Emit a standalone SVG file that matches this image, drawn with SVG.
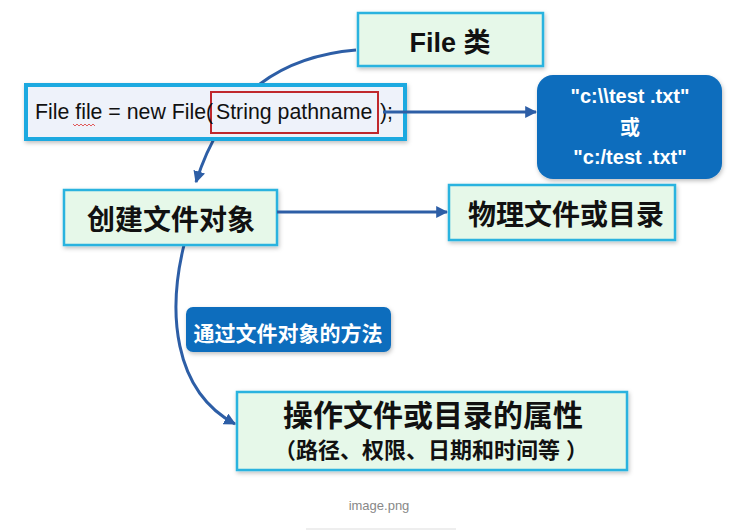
<svg xmlns="http://www.w3.org/2000/svg" width="752" height="530" viewBox="0 0 752 530">
<defs>
<style>
.box{fill:#e6f8e9;stroke:#2bb3df;stroke-width:2.5}
.code{fill:#eef2fa;stroke:#1aa9e0;stroke-width:4}
.blue{fill:#0b6dbd}
.conn{fill:none;stroke:#2d5ea6;stroke-width:3}
.t{font-family:"Liberation Sans","Noto Sans CJK SC",sans-serif;font-weight:bold;fill:#111;text-anchor:middle}
.w{font-family:"Liberation Sans","Noto Sans CJK SC",sans-serif;font-weight:bold;fill:#fff;text-anchor:middle}
.c{font-family:"Liberation Sans",sans-serif;font-size:21.3px;fill:#111}
</style>
<marker id="ah" viewBox="0 0 10 10" refX="9" refY="5" markerWidth="4" markerHeight="4" orient="auto" markerUnits="strokeWidth">
<path d="M0,0 L10,5 L0,10 z" fill="#2d5ea6"/>
</marker>
<filter id="sh" x="-10%" y="-10%" width="120%" height="130%">
<feDropShadow dx="1" dy="2" stdDeviation="2" flood-color="#000" flood-opacity="0.25"/>
</filter>
</defs>
<g id="connectors-back">
<path class="conn" d="M356,50 C285,56 225,90 196,182" marker-end="url(#ah)"/>
<path class="conn" d="M184,245 C168,310 172,390 235,424" marker-end="url(#ah)"/>
</g>
<g id="file-class">
<rect class="box" x="358" y="13" width="185" height="53" filter="url(#sh)"/>
<text class="t" x="450" y="52" font-size="27">File 类</text>
</g>
<g id="code">
<rect class="code" x="26" y="85" width="379" height="54" filter="url(#sh)"/>
<rect x="211" y="92" width="167" height="41" fill="none" stroke="#c0282d" stroke-width="2"/>
<text class="c" x="35" y="119">File file = new File(</text>
<text class="c" x="216" y="119">String pathname</text>
<text class="c" x="380" y="119">);</text>
<path d="M73,124 l2,2 l2,-2 l2,2 l2,-2 l2,2 l2,-2 l2,2 l2,-2 l2,2 l2,-2 l2,2" fill="none" stroke="#d33" stroke-width="0.8"/>
</g>
<g id="path-values">
<rect class="blue" x="537" y="75" width="185" height="104" rx="16" filter="url(#sh)"/>
<text class="w" x="630" y="103" font-size="20">"c:\\test .txt"</text>
<text class="w" x="630" y="135" font-size="20">或</text>
<text class="w" x="630" y="164" font-size="20">"c:/test .txt"</text>
</g>
<g id="create">
<rect class="box" x="64" y="190" width="213" height="55" filter="url(#sh)"/>
<text class="t" x="171" y="230" font-size="28">创建文件对象</text>
</g>
<g id="physical">
<rect class="box" x="449" y="185" width="226" height="55" filter="url(#sh)"/>
<text class="t" x="566" y="225" font-size="28">物理文件或目录</text>
</g>
<g id="method-label">
<rect class="blue" x="186" y="307" width="205" height="45" rx="7" filter="url(#sh)"/>
<text class="w" x="288" y="341" font-size="21">通过文件对象的方法</text>
</g>
<g id="attributes">
<rect class="box" x="237" y="392" width="390" height="78" filter="url(#sh)"/>
<text class="t" x="433" y="426" font-size="30">操作文件或目录的属性</text>
<text class="t" x="431" y="458" font-size="22">（路径、权限、日期和时间等 ）</text>
</g>
<g id="connectors">
<path class="conn" d="M383,112 L536,112" marker-end="url(#ah)"/>
<path class="conn" d="M277,212 L447,212" marker-end="url(#ah)"/>
</g>
<text x="379" y="510" font-family="Liberation Sans, sans-serif" font-size="13" fill="#888" text-anchor="middle">image.png</text>
<line x1="306" y1="529" x2="456" y2="529" stroke="#ddd" stroke-width="1"/>
</svg>
